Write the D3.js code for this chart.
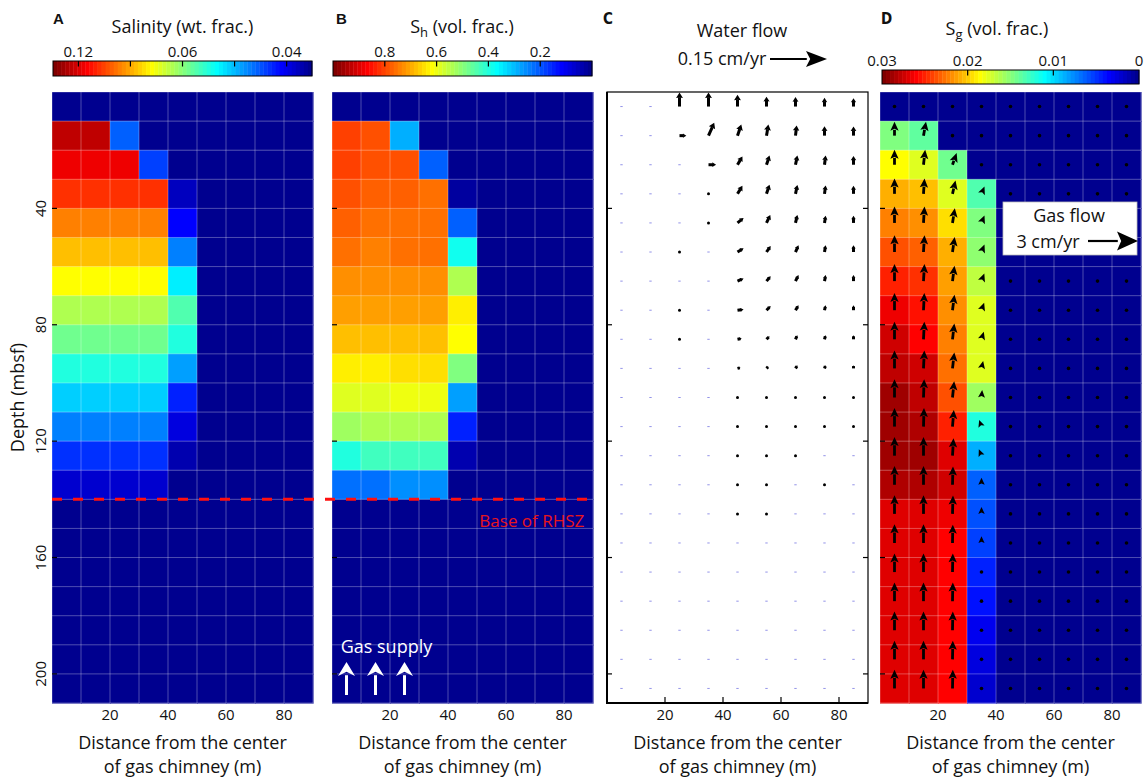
<!DOCTYPE html>
<html>
<head>
<meta charset="utf-8">
<script src="https://cdn.jsdelivr.net/npm/d3@7"></script>
<style>
  body { margin: 0; background: #fff; }
  svg text { font-family: "Open Sans", "Noto Sans", sans-serif; fill: #111; }
</style>
</head>
<body>
<svg id="chart" width="1144" height="780"></svg>
<script>
// ---- grid: cell centres (m) ----
const distance = [5, 15, 25, 35, 45, 55, 65, 75, 85];
const depth = [5, 15, 25, 35, 45, 55, 65, 75, 85, 95, 105, 115, 125, 135, 145, 155, 165, 175, 185, 195, 205];

// ---- A: salinity (wt. frac.), one row per depth ----
const salinity = [
  [0.037, 0.037, 0.037, 0.037, 0.037, 0.037, 0.037, 0.037, 0.037],
  [0.129, 0.129, 0.0442, 0.037, 0.037, 0.037, 0.037, 0.037, 0.037],
  [0.1147, 0.1147, 0.1147, 0.043, 0.037, 0.037, 0.037, 0.037, 0.037],
  [0.0997, 0.0997, 0.0997, 0.0997, 0.0387, 0.037, 0.037, 0.037, 0.037],
  [0.0859, 0.0859, 0.0859, 0.0859, 0.0407, 0.037, 0.037, 0.037, 0.037],
  [0.0774, 0.0774, 0.0774, 0.0774, 0.0455, 0.037, 0.037, 0.037, 0.037],
  [0.0703, 0.0703, 0.0703, 0.0703, 0.0507, 0.037, 0.037, 0.037, 0.037],
  [0.0631, 0.0631, 0.0631, 0.0631, 0.0562, 0.037, 0.037, 0.037, 0.037],
  [0.0584, 0.0584, 0.0584, 0.0584, 0.0533, 0.037, 0.037, 0.037, 0.037],
  [0.0533, 0.0533, 0.0533, 0.0533, 0.0468, 0.037, 0.037, 0.037, 0.037],
  [0.0491, 0.0491, 0.0491, 0.0491, 0.0418, 0.037, 0.037, 0.037, 0.037],
  [0.0455, 0.0455, 0.0455, 0.0455, 0.0397, 0.037, 0.037, 0.037, 0.037],
  [0.0424, 0.0424, 0.0424, 0.0424, 0.0382, 0.037, 0.037, 0.037, 0.037],
  [0.0392, 0.0392, 0.0392, 0.0392, 0.037, 0.037, 0.037, 0.037, 0.037],
  [0.037, 0.037, 0.037, 0.037, 0.037, 0.037, 0.037, 0.037, 0.037],
  [0.037, 0.037, 0.037, 0.037, 0.037, 0.037, 0.037, 0.037, 0.037],
  [0.037, 0.037, 0.037, 0.037, 0.037, 0.037, 0.037, 0.037, 0.037],
  [0.037, 0.037, 0.037, 0.037, 0.037, 0.037, 0.037, 0.037, 0.037],
  [0.037, 0.037, 0.037, 0.037, 0.037, 0.037, 0.037, 0.037, 0.037],
  [0.037, 0.037, 0.037, 0.037, 0.037, 0.037, 0.037, 0.037, 0.037],
  [0.037, 0.037, 0.037, 0.037, 0.037, 0.037, 0.037, 0.037, 0.037]
];

// ---- B: hydrate saturation Sh (vol. frac.) ----
const hydrate = [
  [0, 0, 0, 0, 0, 0, 0, 0, 0],
  [0.805, 0.789, 0.289, 0, 0, 0, 0, 0, 0],
  [0.805, 0.789, 0.789, 0.211, 0, 0, 0, 0, 0],
  [0.789, 0.773, 0.773, 0.758, 0.02, 0, 0, 0, 0],
  [0.773, 0.758, 0.758, 0.758, 0.211, 0, 0, 0, 0],
  [0.758, 0.742, 0.758, 0.758, 0.383, 0, 0, 0, 0],
  [0.727, 0.727, 0.727, 0.727, 0.539, 0, 0, 0, 0],
  [0.711, 0.711, 0.711, 0.711, 0.633, 0, 0, 0, 0],
  [0.680, 0.680, 0.680, 0.680, 0.617, 0, 0, 0, 0],
  [0.633, 0.633, 0.648, 0.648, 0.492, 0, 0, 0, 0],
  [0.586, 0.586, 0.602, 0.602, 0.273, 0, 0, 0, 0],
  [0.523, 0.539, 0.539, 0.539, 0.148, 0, 0, 0, 0],
  [0.398, 0.430, 0.430, 0.430, 0.039, 0, 0, 0, 0],
  [0.227, 0.227, 0.258, 0.258, 0, 0, 0, 0, 0],
  [0, 0, 0, 0, 0, 0, 0, 0, 0],
  [0, 0, 0, 0, 0, 0, 0, 0, 0],
  [0, 0, 0, 0, 0, 0, 0, 0, 0],
  [0, 0, 0, 0, 0, 0, 0, 0, 0],
  [0, 0, 0, 0, 0, 0, 0, 0, 0],
  [0, 0, 0, 0, 0, 0, 0, 0, 0],
  [0, 0, 0, 0, 0, 0, 0, 0, 0]
];

// ---- C: water flux (cm/yr), horizontal (+ away from chimney) and vertical (+ up) ----
const waterU = [
  [0.001, 0.002, 0, 0, 0, 0, 0, 0, 0],
  [0.001, 0, 0.018, 0.015, 0.010, 0.005, 0.003, 0, 0],
  [0.001, 0.001, 0.001, 0.020, 0.013, 0.008, 0.005, 0.003, 0],
  [0.001, 0.001, 0.001, 0.004, 0.013, 0.008, 0.005, 0.003, 0],
  [0.001, 0.001, 0.001, 0.004, 0.016, 0.010, 0.005, 0.003, 0],
  [0.001, 0.001, 0.003, 0.001, 0.016, 0.011, 0.008, 0.003, 0],
  [0.001, 0.001, 0.001, 0.001, 0.016, 0.011, 0.008, 0.003, 0],
  [0.001, 0.001, 0.003, 0.001, 0.016, 0.011, 0.008, 0.003, 0],
  [0.001, 0.001, 0.003, 0.001, 0.011, 0.008, 0.005, 0.003, 0],
  [0.001, 0.001, 0.001, 0.001, 0.008, 0.005, 0.005, 0.003, 0],
  [0.001, 0.001, 0.001, 0.001, 0.005, 0.003, 0.003, 0.002, 0],
  [0.001, 0.001, 0.001, 0.001, 0.004, 0.003, 0.003, 0.002, 0.001],
  [0.001, 0.001, 0.001, 0.001, 0.004, 0.003, 0.003, 0.001, 0.001],
  [0.001, 0.001, 0.001, 0.001, 0.004, 0.003, 0.001, 0.003, 0.001],
  [0.001, 0.001, 0.001, 0.001, 0.004, 0.003, 0.001, 0.001, 0.001],
  [0.001, 0.001, 0.001, 0.001, 0.001, 0.001, 0.001, 0.001, 0.001],
  [0.001, 0.001, 0.001, 0.001, 0.001, 0.001, 0.001, 0.001, 0.001],
  [0.001, 0.001, 0.001, 0.001, 0.001, 0.001, 0.001, 0.001, 0.001],
  [0.001, 0.001, 0.001, 0.001, 0.001, 0.001, 0.001, 0.001, 0.001],
  [0.001, 0.001, 0.001, 0.001, 0.001, 0.001, 0.001, 0.001, 0.001],
  [0.001, 0.001, 0.001, 0.001, 0.001, 0.001, 0.001, 0.001, 0.001]
];
const waterW = [
  [0, 0, 0.037, 0.037, 0.031, 0.026, 0.025, 0.023, 0.022],
  [0, 0.001, 0, 0.034, 0.029, 0.029, 0.027, 0.025, 0.024],
  [0, 0, 0.001, 0, 0.022, 0.024, 0.024, 0.024, 0.023],
  [0, 0, 0, 0.003, 0.021, 0.024, 0.023, 0.022, 0.021],
  [0, 0, 0, 0.002, 0.013, 0.021, 0.021, 0.019, 0.019],
  [0, 0, 0.002, 0, 0.010, 0.016, 0.018, 0.018, 0.018],
  [0, 0, 0.001, 0.001, 0.007, 0.013, 0.016, 0.016, 0.016],
  [0, 0, 0, 0.001, 0.002, 0.011, 0.013, 0.013, 0.013],
  [0, 0, 0.001, 0.001, 0.002, 0.008, 0.011, 0.011, 0.011],
  [0, 0, 0, 0, 0.002, 0.005, 0.008, 0.008, 0.008],
  [0, 0, 0, 0, 0, 0.005, 0.005, 0.005, 0.005],
  [0, 0, 0, 0, 0, 0.003, 0.003, 0.003, 0.004],
  [0, 0, 0, 0, 0, 0.002, 0.002, 0, 0],
  [0, 0, 0, 0, 0.001, 0.002, 0, 0.001, 0],
  [0, 0, 0, 0, 0, 0.001, 0, 0, 0],
  [0, 0, 0, 0, 0, 0, 0, 0, 0],
  [0, 0, 0, 0, 0, 0, 0, 0, 0],
  [0, 0, 0, 0, 0, 0, 0, 0, 0],
  [0, 0, 0, 0, 0, 0, 0, 0, 0],
  [0, 0, 0, 0, 0, 0, 0, 0, 0],
  [0, 0, 0, 0, 0, 0, 0, 0, 0]
];

// ---- D: gas saturation Sg (vol. frac.) ----
const gasSat = [
  [0, 0, 0, 0, 0, 0, 0, 0, 0],
  [0.0148, 0.0138, 0, 0, 0, 0, 0, 0, 0],
  [0.0185, 0.0176, 0.0143, 0, 0, 0, 0, 0, 0],
  [0.0209, 0.0204, 0.0176, 0.0134, 0, 0, 0, 0, 0],
  [0.0223, 0.0218, 0.0195, 0.0148, 0, 0, 0, 0, 0],
  [0.0237, 0.0232, 0.0209, 0.0152, 0, 0, 0, 0, 0],
  [0.0251, 0.0246, 0.0213, 0.0166, 0, 0, 0, 0, 0],
  [0.0265, 0.0256, 0.0218, 0.0178, 0, 0, 0, 0, 0],
  [0.0274, 0.0260, 0.0223, 0.0178, 0, 0, 0, 0, 0],
  [0.0279, 0.0274, 0.0227, 0.0176, 0, 0, 0, 0, 0],
  [0.0288, 0.0281, 0.0237, 0.0157, 0, 0, 0, 0, 0],
  [0.0288, 0.0284, 0.0251, 0.0120, 0, 0, 0, 0, 0],
  [0.0288, 0.0288, 0.0270, 0.0087, 0, 0, 0, 0, 0],
  [0.0284, 0.0284, 0.0274, 0.0063, 0, 0, 0, 0, 0],
  [0.0268, 0.0268, 0.0265, 0.0059, 0, 0, 0, 0, 0],
  [0.0268, 0.0268, 0.0260, 0.0054, 0, 0, 0, 0, 0],
  [0.0268, 0.0268, 0.0260, 0.0045, 0, 0, 0, 0, 0],
  [0.0268, 0.0268, 0.0260, 0.0040, 0, 0, 0, 0, 0],
  [0.0268, 0.0268, 0.0260, 0.0031, 0, 0, 0, 0, 0],
  [0.0268, 0.0268, 0.0260, 0.0026, 0, 0, 0, 0, 0],
  [0.0268, 0.0268, 0.0260, 0.0021, 0, 0, 0, 0, 0]
];

// ---- D: gas flux (cm/yr), horizontal and vertical (+ up) ----
const gasU = [
  [0, 0, 0, 0, 0, 0, 0, 0, 0],
  [0, 0.15, 0, 0, 0, 0, 0, 0, 0],
  [0, 0.10, 0.25, 0, 0, 0, 0, 0, 0],
  [0, 0.06, 0.18, 0.18, 0, 0, 0, 0, 0],
  [0, 0.06, 0.14, 0.18, 0, 0, 0, 0, 0],
  [0, 0.06, 0.13, 0.18, 0, 0, 0, 0, 0],
  [0, 0.06, 0.12, 0.17, 0, 0, 0, 0, 0],
  [0, 0.05, 0.12, 0.16, 0, 0, 0, 0, 0],
  [0, 0.05, 0.11, 0.14, 0, 0, 0, 0, 0],
  [0, 0.05, 0.11, 0.10, 0, 0, 0, 0, 0],
  [0, 0.04, 0.10, 0.04, 0, 0, 0, 0, 0],
  [0, 0.03, 0.08, -0.14, 0, 0, 0, 0, 0],
  [0, 0, 0.06, -0.16, 0, 0, 0, 0, 0],
  [0, 0, 0.03, 0, 0, 0, 0, 0, 0],
  [0, 0, 0.03, 0, 0, 0, 0, 0, 0],
  [0, 0, 0.02, 0, 0, 0, 0, 0, 0],
  [0, 0, 0.02, 0, 0, 0, 0, 0, 0],
  [0, 0, 0.02, 0, 0, 0, 0, 0, 0],
  [0, 0, 0.02, 0, 0, 0, 0, 0, 0],
  [0, 0, 0.02, 0, 0, 0, 0, 0, 0],
  [0, 0, 0.02, 0, 0, 0, 0, 0, 0]
];
const gasW = [
  [0, 0, 0, 0, 0, 0, 0, 0, 0],
  [0.84, 0.84, 0, 0, 0, 0, 0, 0, 0],
  [0.90, 0.90, 0.70, 0, 0, 0, 0, 0, 0],
  [0.92, 0.92, 0.80, 0.44, 0, 0, 0, 0, 0],
  [0.98, 0.98, 0.88, 0.45, 0, 0, 0, 0, 0],
  [1.00, 1.00, 0.90, 0.45, 0, 0, 0, 0, 0],
  [1.02, 1.02, 0.92, 0.45, 0, 0, 0, 0, 0],
  [1.04, 1.04, 0.93, 0.45, 0, 0, 0, 0, 0],
  [1.06, 1.06, 0.95, 0.45, 0, 0, 0, 0, 0],
  [1.08, 1.08, 0.96, 0.45, 0, 0, 0, 0, 0],
  [1.10, 1.10, 0.98, 0.45, 0, 0, 0, 0, 0],
  [1.12, 1.12, 1.00, 0.40, 0, 0, 0, 0, 0],
  [1.12, 1.12, 1.05, 0.38, 0, 0, 0, 0, 0],
  [1.12, 1.12, 1.10, 0.42, 0, 0, 0, 0, 0],
  [1.12, 1.12, 1.10, 0.42, 0, 0, 0, 0, 0],
  [1.12, 1.12, 1.10, 0.40, 0, 0, 0, 0, 0],
  [1.12, 1.12, 1.12, 0, 0, 0, 0, 0, 0],
  [1.12, 1.12, 1.12, 0, 0, 0, 0, 0, 0],
  [1.12, 1.12, 1.12, 0, 0, 0, 0, 0, 0],
  [1.12, 1.12, 1.12, 0, 0, 0, 0, 0, 0],
  [1.12, 1.12, 1.12, 0, 0, 0, 0, 0, 0]
];

// ---- axis / colour-bar ticks ----
const depthTicks = [40, 80, 120, 160, 200];
const distanceTicks = [20, 40, 60, 80];
const salinityTicks = [0.12, 0.08, 0.06, 0.048, 0.04];
const salinityTickLabels = [0.12, 0.06, 0.04];
const hydrateTicks = [0.8, 0.6, 0.4, 0.2];
const gasSatTicks = [0.03, 0.02, 0.01, 0];
const rhszBase = 140;          // base of the regional hydrate stability zone (mbsf)
const waterLegend = 0.15;      // cm/yr
const gasLegend = 3;           // cm/yr
const gasSupplyAt = [5, 15, 25];

// colour-bar limits
const SAL_MAX = 0.1586, SAL_MIN = 0.0370;
const SG_MAX = 0.03;

// ================== drawing ==================
const svg = d3.select("#chart");
const plotTop = 92, plotBottom = 703, plotW = 261;
const panelX = { A: 52, B: 332, C: 607, D: 880 };
const yScale = d3.scaleLinear().domain([0, 210]).range([plotTop, plotBottom]);
const xScales = {};
for (const k in panelX) xScales[k] = d3.scaleLinear().domain([0, 90]).range([panelX[k], panelX[k] + plotW]);

// 64-step jet colour map
function jet64() {
  const cols = [];
  for (let i = 1; i <= 64; i++) {
    let r = 0, g = 0, b = 0;
    if (i <= 8) b = (i + 8) / 16;
    else if (i <= 24) { g = (i - 8) / 16; b = 1; }
    else if (i <= 40) { r = (i - 24) / 16; g = 1; b = (40 - i) / 16; }
    else if (i <= 56) { r = 1; g = (56 - i) / 16; }
    else r = (72 - i) / 16;
    cols.push(d3.rgb(r * 255, g * 255, b * 255).formatHex());
  }
  return cols;
}
const jet = jet64();
const jetScale = d3.scaleQuantize().domain([0, 1]).range(jet);

const salUnit = d3.scaleLinear().domain([1 / SAL_MAX, 1 / SAL_MIN]).range([1, 0]).clamp(true);
const shUnit = d3.scaleLinear().domain([0, 1]).range([0, 1]).clamp(true);
const sgUnit = d3.scaleLinear().domain([0, SG_MAX]).range([0, 1]).clamp(true);

const colorSal = v => jetScale(salUnit(1 / v));
const colorSh = v => jetScale(shUnit(v));
const colorSg = v => jetScale(sgUnit(v));

function heatmap(key, data, colorFn) {
  const xs = xScales[key];
  const g = svg.append("g");
  data.forEach((row, r) => {
    row.forEach((v, c) => {
      const x0 = xs(distance[c] - 5), x1 = xs(distance[c] + 5);
      const y0 = yScale(depth[r] - 5), y1 = yScale(depth[r] + 5);
      g.append("rect")
        .attr("x", x0).attr("y", y0)
        .attr("width", x1 - x0 + 0.6).attr("height", y1 - y0 + 0.6)
        .attr("fill", colorFn(v));
    });
  });
  // light cell grid
  const grid = svg.append("g").attr("stroke", "#ffffff").attr("stroke-opacity", 0.3).attr("stroke-width", 1);
  for (let d = 0; d <= 90; d += 10) {
    grid.append("line").attr("x1", xs(d)).attr("x2", xs(d)).attr("y1", plotTop).attr("y2", plotBottom);
  }
  for (let d = 0; d <= 210; d += 10) {
    grid.append("line").attr("x1", xs(0)).attr("x2", xs(90)).attr("y1", yScale(d)).attr("y2", yScale(d));
  }
}

function leftTicks(key, both) {
  const xs = xScales[key];
  const g = svg.append("g").attr("stroke", "#000").attr("stroke-width", 1.2);
  depthTicks.forEach(d => {
    g.append("line").attr("x1", xs(0)).attr("x2", xs(0) + 5).attr("y1", yScale(d)).attr("y2", yScale(d));
    if (both) g.append("line").attr("x1", xs(90)).attr("x2", xs(90) - 5).attr("y1", yScale(d)).attr("y2", yScale(d));
  });
}

function xAxisText(key) {
  const xs = xScales[key];
  const g = svg.append("g");
  distanceTicks.forEach(d => {
    g.append("text").attr("x", xs(d)).attr("y", 720).attr("text-anchor", "middle")
      .attr("font-size", 15).text(d);
  });
  const cx = xs(45);
  g.append("text").attr("x", cx).attr("y", 749).attr("text-anchor", "middle").attr("font-size", 18)
    .text("Distance from the center");
  g.append("text").attr("x", cx).attr("y", 773).attr("text-anchor", "middle").attr("font-size", 18)
    .text("of gas chimney (m)");
}

// arrow from (x,y) by (dx,dy) in px
function arrow(g, x, y, dx, dy, o) {
  const L = Math.hypot(dx, dy);
  const ux = dx / L, uy = dy / L;
  const hl = Math.min(o.head, L * o.headFrac);
  const hw = o.headW !== undefined ? o.headW : hl * o.wRatio;
  const tx = x + dx, ty = y + dy;
  const bx = tx - ux * hl, by = ty - uy * hl;
  if (L - hl > 0.3) {
    g.append("line").attr("x1", x).attr("y1", y).attr("x2", bx + ux * 0.8).attr("y2", by + uy * 0.8)
      .attr("stroke", o.color).attr("stroke-width", o.width);
  }
  const nx = -uy, ny = ux;
  g.append("path")
    .attr("d", `M${tx},${ty}L${bx + nx * hw / 2},${by + ny * hw / 2}L${bx + ux * hl * o.notch},${by + uy * hl * o.notch}L${bx - nx * hw / 2},${by - ny * hw / 2}Z`)
    .attr("fill", o.color);
}

function vectorField(key, U, V, pxPerUnit, o) {
  const xs = xScales[key];
  const g = svg.append("g");
  U.forEach((row, r) => {
    row.forEach((u, c) => {
      const v = V[r][c];
      const x = xs(distance[c]), y = yScale(depth[r]);
      const dx = u * pxPerUnit, dy = -v * pxPerUnit;
      const L = Math.hypot(dx, dy);
      if (L < o.faint) {
        if (o.faintColor) {
          g.append("line").attr("x1", x - 1.2).attr("x2", x + 1.2).attr("y1", y).attr("y2", y)
            .attr("stroke", o.faintColor).attr("stroke-width", 1).attr("stroke-opacity", 0.75);
        } else {
          g.append("circle").attr("cx", x).attr("cy", y).attr("r", o.dotR).attr("fill", "#000");
        }
      } else if (L < o.dot) {
        g.append("circle").attr("cx", x).attr("cy", y).attr("r", o.dotR).attr("fill", "#000");
      } else {
        arrow(g, x, y, dx, dy, o);
      }
    });
  });
}

// ---- panels A, B, D heat maps ----
heatmap("A", salinity, colorSal);
heatmap("B", hydrate, colorSh);
heatmap("D", gasSat, colorSg);

// ---- panel C frame ----
{
  const xs = xScales.C;
  svg.append("rect").attr("x", xs(0)).attr("y", plotTop).attr("width", plotW).attr("height", plotBottom - plotTop)
    .attr("fill", "#fff").attr("stroke", "#000").attr("stroke-width", 1.2);
  svg.append("line").attr("x1", xs(0)).attr("x2", xs(0)).attr("y1", plotTop).attr("y2", plotBottom + 1)
    .attr("stroke", "#000").attr("stroke-width", 2);
  svg.append("line").attr("x1", xs(0) - 1).attr("x2", xs(90)).attr("y1", plotBottom).attr("y2", plotBottom)
    .attr("stroke", "#000").attr("stroke-width", 2);
  const tg = svg.append("g").attr("stroke", "#000").attr("stroke-width", 1.2);
  distanceTicks.forEach(d => {
    tg.append("line").attr("x1", xs(d)).attr("x2", xs(d)).attr("y1", plotBottom).attr("y2", plotBottom - 6);
  });
}
leftTicks("A"); leftTicks("B"); leftTicks("C", true); leftTicks("D");

// water flux arrows
const waterPx = 57 / waterLegend;   // px per cm/yr
vectorField("C", waterU, waterW, waterPx, {
  head: 5.5, headFrac: 0.5, wRatio: 1.25, notch: 0.1, width: 3, color: "#000",
  faint: 1, dot: 2.6, dotR: 1.5, faintColor: "#6f6fe0"
});

// gas flux arrows
const gasPx = 50 / gasLegend;
vectorField("D", gasU, gasW, gasPx, {
  head: 9, headFrac: 1, wRatio: 0.92, notch: 0.2, width: 2.8, color: "#000",
  faint: 1, dot: 1, dotR: 1.8
});

// ---- base of RHSZ ----
svg.append("line")
  .attr("x1", xScales.A(0)).attr("x2", xScales.B(90))
  .attr("y1", yScale(rhszBase)).attr("y2", yScale(rhszBase))
  .attr("stroke", "#ff1010").attr("stroke-width", 3).attr("stroke-dasharray", "10,11");
svg.append("text").attr("x", xScales.B(87)).attr("y", yScale(rhszBase) + 28)
  .attr("text-anchor", "end").attr("font-size", 17).style("fill", "#e8161c").text("Base of RHSZ");

// ---- gas supply arrows ----
{
  const g = svg.append("g");
  gasSupplyAt.forEach(d => {
    arrow(g, xScales.B(d), 695, 0, -33, { head: 14, headFrac: 1, headW: 17, notch: 0.3, width: 3, color: "#fff" });
  });
  svg.append("text").attr("x", xScales.B(3)).attr("y", 653).attr("font-size", 18)
    .style("fill", "#fff").text("Gas supply");
}

// ---- y axis (panel A) ----
depthTicks.forEach(d => {
  svg.append("text").attr("transform", `translate(46,${yScale(d)}) rotate(-90)`)
    .attr("text-anchor", "middle").attr("font-size", 15).text(d);
});
svg.append("text").attr("transform", `translate(24,${(plotTop + plotBottom) / 2}) rotate(-90)`)
  .attr("text-anchor", "middle").attr("font-size", 18).text("Depth (mbsf)");

["A", "B", "C", "D"].forEach(xAxisText);

// ---- colour bars ----
function colorbar(x0, x1, y0, y1, axisScale, ticks, labels, fmt, labelY) {
  const g = svg.append("g");
  const n = jet.length, w = (x1 - x0) / n;
  for (let k = 0; k < n; k++) {
    g.append("rect").attr("x", x0 + k * w).attr("y", y0).attr("width", w + 0.4).attr("height", y1 - y0)
      .attr("fill", jet[n - 1 - k]);
  }
  g.append("rect").attr("x", x0).attr("y", y0).attr("width", x1 - x0).attr("height", y1 - y0)
    .attr("fill", "none").attr("stroke", "#000").attr("stroke-width", 1);
  ticks.forEach(t => {
    const x = axisScale(t);
    if (x > x0 + 2 && x < x1 - 2)
      g.append("line").attr("x1", x).attr("x2", x).attr("y1", y0).attr("y2", y0 + 5.5)
        .attr("stroke", "#000").attr("stroke-width", 1.2);
  });
  labels.forEach(t => {
    g.append("text").attr("x", axisScale(t)).attr("y", labelY).attr("text-anchor", "middle")
      .attr("font-size", 15).text(fmt(t));
  });
}

// A: salinity bar (linear in 1/S)
{
  const s = d3.scaleLinear().domain([1 / SAL_MAX, 1 / SAL_MIN]).range([53, 312]);
  const pos = v => s(1 / v);
  colorbar(53, 312, 61, 76, pos, salinityTicks, salinityTickLabels, d => d.toFixed(2), 57);
}
// B: hydrate saturation bar
{
  const s = d3.scaleLinear().domain([1, 0]).range([333, 592]);
  colorbar(333, 592, 61, 76, s, hydrateTicks, hydrateTicks, d => d.toFixed(1), 57);
}
// D: gas saturation bar
{
  const s = d3.scaleLinear().domain([SG_MAX, 0]).range([882, 1139]);
  colorbar(882, 1139, 70, 84, s, gasSatTicks, gasSatTicks, d => (d === 0 ? "0" : d.toFixed(2)), 66);
}

// ---- titles ----
svg.append("text").attr("x", 182.5).attr("y", 33).attr("text-anchor", "middle").attr("font-size", 18)
  .text("Salinity (wt. frac.)");
{
  const t = svg.append("text").attr("x", 462).attr("y", 33).attr("text-anchor", "middle").attr("font-size", 18);
  t.append("tspan").text("S");
  t.append("tspan").attr("font-size", 13).attr("dy", 4).text("h");
  t.append("tspan").attr("dy", -4).text(" (vol. frac.)");
}
{
  const t = svg.append("text").attr("x", 997).attr("y", 35).attr("text-anchor", "middle").attr("font-size", 18);
  t.append("tspan").text("S");
  t.append("tspan").attr("font-size", 13).attr("dy", 4).text("g");
  t.append("tspan").attr("dy", -4).text(" (vol. frac.)");
}
svg.append("text").attr("x", 742).attr("y", 37).attr("text-anchor", "middle").attr("font-size", 18).text("Water flow");
svg.append("text").attr("x", 722).attr("y", 65).attr("text-anchor", "middle").attr("font-size", 18).text("0.15 cm/yr");
{
  const g = svg.append("g");
  arrow(g, 770, 59, waterLegend * waterPx, 0, { head: 21, headFrac: 1, headW: 16, notch: 0.2, width: 2.2, color: "#000" });
}

// gas flow legend box
{
  const g = svg.append("g");
  g.append("rect").attr("x", 1003).attr("y", 202).attr("width", 134).attr("height", 53)
    .attr("fill", "#fff").attr("stroke", "#bbb").attr("stroke-width", 0.8);
  g.append("text").attr("x", 1069).attr("y", 222).attr("text-anchor", "middle").attr("font-size", 18).text("Gas flow");
  g.append("text").attr("x", 1048).attr("y", 248).attr("text-anchor", "middle").attr("font-size", 18).text("3 cm/yr");
  arrow(g, 1088, 241, gasLegend * gasPx, 0, { head: 21, headFrac: 1, headW: 19, notch: 0.2, width: 2.2, color: "#000" });
}

// ---- panel letters ----
[["A", 53, 24, "Liberation Sans"], ["B", 336, 24, "Liberation Sans"],
 ["C", 603, 24, "Liberation Sans Narrow"], ["D", 881, 24, "Liberation Sans Narrow"]].forEach(([l, x, y, f]) => {
  svg.append("text").attr("x", x).attr("y", y).attr("font-size", 15).attr("font-weight", "bold")
    .style("font-family", `"${f}", "DejaVu Sans Condensed", sans-serif`).text(l);
});
</script>
</body>
</html>
